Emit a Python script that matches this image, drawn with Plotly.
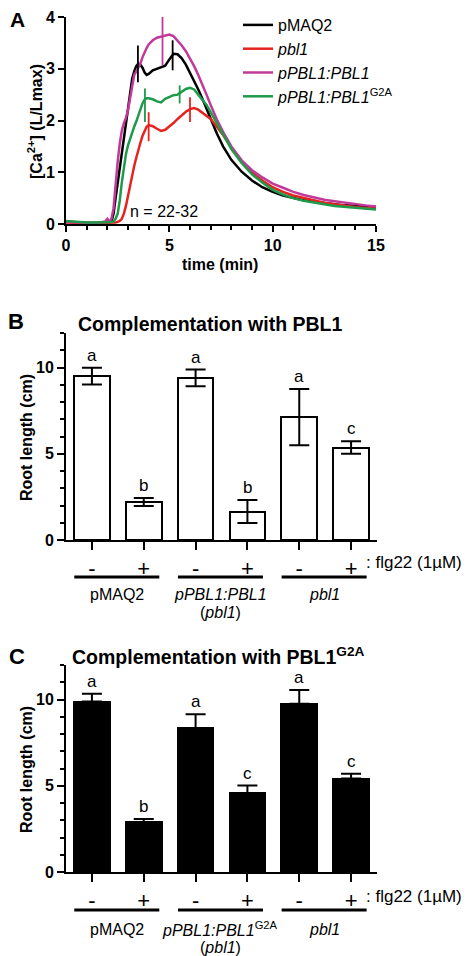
import plotly.graph_objects as go

# the page body keeps its default 8px margin, so the figure is drawn 8px in
# from the window's top-left corner; positions below are window pixels
VIEW_W, VIEW_H = 472, 956
OFF = 8
W, H = VIEW_W - OFF, VIEW_H - OFF
FONT = "Liberation Sans, Arial, sans-serif"

# ---------------- panel A: [Ca2+] traces ----------------
TIME = [0, 0.5, 1, 1.5, 1.9, 2.0, 2.1, 2.2, 2.3, 2.4, 2.5, 2.6, 2.7, 2.8, 2.9,
        3.0, 3.1, 3.2, 3.3, 3.4, 3.5, 3.6, 3.7, 3.8, 3.9, 4.0, 4.2, 4.4, 4.6,
        4.8, 5.0, 5.2, 5.4, 5.6, 5.8, 6.0, 6.2, 6.4, 6.6, 6.8, 7.0, 7.3, 7.6,
        8.0, 8.5, 9.0, 9.5, 10, 10.5, 11, 11.5, 12, 12.5, 13, 13.5, 14, 14.5, 15]

PMAQ2 = [0.05, 0.03, 0.02, 0.02, 0.02, 0.02, 0.03, 0.05, 0.20, 0.50, 0.80, 1.10,
         1.40, 1.65, 1.90, 2.20, 2.55, 2.80, 2.95, 3.05, 3.10, 3.08, 3.02, 2.93,
         2.88, 2.90, 2.97, 3.00, 3.02, 3.06, 3.18, 3.29, 3.28, 3.20, 3.08, 2.93,
         2.77, 2.60, 2.42, 2.22, 2.02, 1.75, 1.50, 1.24, 1.01, 0.84, 0.71, 0.62,
         0.55, 0.50, 0.46, 0.43, 0.40, 0.38, 0.36, 0.35, 0.34, 0.33]

PBL1 = [0.03, 0.02, 0.02, 0.02, 0.02, 0.02, 0.02, 0.02, 0.02, 0.03, 0.04, 0.06,
        0.10, 0.20, 0.35, 0.55, 0.77, 0.95, 1.12, 1.28, 1.45, 1.57, 1.70, 1.80,
        1.88, 1.91, 1.89, 1.84, 1.80, 1.82, 1.88, 1.95, 2.03, 2.10, 2.17, 2.22,
        2.24, 2.21, 2.15, 2.09, 2.03, 1.88, 1.72, 1.48, 1.20, 1.00, 0.84, 0.71,
        0.62, 0.55, 0.50, 0.45, 0.41, 0.38, 0.35, 0.33, 0.31, 0.30]

COMP = [0.04, 0.03, 0.02, 0.02, 0.05, 0.10, 0.05, 0.10, 0.30, 0.80, 1.20, 1.55,
        1.80, 1.95, 2.05, 2.20, 2.45, 2.70, 2.88, 2.95, 3.02, 3.10, 3.22, 3.32,
        3.40, 3.47, 3.55, 3.60, 3.62, 3.63, 3.66, 3.63, 3.55, 3.45, 3.34, 3.20,
        3.05, 2.88, 2.70, 2.50, 2.30, 2.02, 1.78, 1.50, 1.23, 1.04, 0.90, 0.78,
        0.70, 0.62, 0.56, 0.51, 0.47, 0.44, 0.41, 0.38, 0.36, 0.34]

G2A = [0.06, 0.04, 0.03, 0.03, 0.03, 0.04, 0.04, 0.04, 0.05, 0.10, 0.20, 0.45,
       0.80, 1.10, 1.35, 1.52, 1.65, 1.77, 1.88, 1.98, 2.10, 2.22, 2.33, 2.40,
       2.43, 2.43, 2.41, 2.37, 2.35, 2.42, 2.46, 2.49, 2.50, 2.55, 2.61, 2.63,
       2.60, 2.50, 2.40, 2.30, 2.16, 1.95, 1.75, 1.45, 1.18, 0.96, 0.80, 0.66,
       0.57, 0.50, 0.45, 0.41, 0.38, 0.35, 0.33, 0.31, 0.29, 0.28]

# vertical error marks: (times, low, high)
PMAQ2_ERR = ([3.48, 5.16], [2.74, 2.97], [3.45, 3.55])
PBL1_ERR = ([4.0, 6.0], [1.60, 1.97], [2.16, 2.45])
COMP_ERR = ([4.67], [3.07], [4.01])
G2A_ERR = ([3.82, 5.5], [1.97, 2.33], [2.62, 2.68])

# ---------------- panels B and C: root length ----------------
CONDITIONS = ["pMAQ2 -", "pMAQ2 +", "comp -", "comp +", "pbl1 -", "pbl1 +"]
TREATMENT = ["-", "+", "-", "+", "-", "+"]

B_MEAN = [9.50, 2.20, 9.40, 1.65, 7.13, 5.36]
B_ERR = [0.48, 0.23, 0.48, 0.67, 1.63, 0.36]
B_LETTERS = ["a", "b", "a", "b", "a", "c"]

C_MEAN = [9.88, 2.87, 8.33, 4.57, 9.75, 5.42]
C_ERR = [0.45, 0.20, 0.82, 0.44, 0.80, 0.28]
C_LETTERS = ["a", "b", "a", "c", "a", "c"]

B_GROUPS = ["pMAQ2", "<i>pPBL1:PBL1</i>", "<i>pbl1</i>"]
C_GROUPS = ["pMAQ2", "<i>pPBL1:PBL1</i><sup>G2A</sup>", "<i>pbl1</i>"]
GROUP_SUB = ["", "(<i>pbl1</i>)", ""]


def px(x):
    return (x - OFF) / W


def py(y):
    return 1 - (y - OFF) / H


fig = go.Figure()

traces_a = [
    ("pMAQ2", PMAQ2, PMAQ2_ERR, "#000000"),
    ("<i>pbl1</i>", PBL1, PBL1_ERR, "#e52421"),
    ("<i>pPBL1:PBL1</i>", COMP, COMP_ERR, "#c1399a"),
    ("<i>pPBL1:PBL1</i><sup>G2A</sup>", G2A, G2A_ERR, "#1f9a4b"),
]
for name, vals, err, col in traces_a:
    fig.add_trace(go.Scatter(x=TIME, y=vals, mode="lines", name=name,
                             line=dict(color=col, width=2.5),
                             xaxis="x", yaxis="y"))
for name, vals, err, col in traces_a:
    t, lo, hi = err
    mid = [(a + b) / 2 for a, b in zip(lo, hi)]
    half = [(b - a) / 2 for a, b in zip(lo, hi)]
    fig.add_trace(go.Scatter(x=t, y=mid, mode="markers", showlegend=False,
                             marker=dict(size=1, color=col),
                             error_y=dict(type="data", array=half, color=col,
                                          thickness=1.8, width=0),
                             xaxis="x", yaxis="y"))

# bars
fig.add_trace(go.Bar(x=CONDITIONS, y=B_MEAN, width=0.69, showlegend=False,
                     marker=dict(color="white", line=dict(color="black", width=2)),
                     error_y=dict(type="data", array=B_ERR, color="black",
                                  thickness=2, width=10),
                     xaxis="x2", yaxis="y2"))
fig.add_trace(go.Bar(x=CONDITIONS, y=C_MEAN, width=0.69, showlegend=False,
                     marker=dict(color="black", line=dict(color="black", width=2)),
                     error_y=dict(type="data", symmetric=False, array=C_ERR,
                                  arrayminus=[0] * len(C_ERR), color="black",
                                  thickness=2, width=10),
                     xaxis="x3", yaxis="y3"))

axis_common = dict(showline=True, linecolor="black", linewidth=2, ticks="outside",
                   tickcolor="black", tickwidth=2, showgrid=False, zeroline=False,
                   fixedrange=True, automargin=False)
bold16 = dict(family=FONT, size=16, color="black", weight="bold")
minor_y = dict(dtick=1, ticklen=4, tickwidth=1.5, ticks="outside", tickcolor="black")
cat_font = dict(family=FONT, size=22, color="black")

fig.update_layout(
    width=W, height=H,
    margin=dict(l=0, r=0, t=0, b=0, pad=0, autoexpand=False),
    paper_bgcolor="white", plot_bgcolor="white",
    font=dict(family=FONT, size=16, color="black"),
    bargap=0,
    xaxis=dict(domain=[px(66), px(376)], anchor="y", range=[0, 15],
               tickvals=[0, 5, 10, 15], ticklen=6, tickfont=bold16,
               minor=dict(dtick=1, ticklen=4, tickwidth=1.5, ticks="outside",
                          tickcolor="black"),
               **axis_common),
    yaxis=dict(domain=[py(224), py(17)], anchor="x", range=[0, 4],
               tickvals=[0, 1, 2, 3, 4], ticklen=6, tickfont=bold16, **axis_common),
    xaxis2=dict(domain=[px(66), px(377)], anchor="y2", type="category",
                range=[-0.5, 5.5], tickvals=CONDITIONS, ticktext=TREATMENT,
                ticklen=8, tickfont=cat_font, **axis_common),
    yaxis2=dict(domain=[py(540), py(333)], anchor="x2", range=[0, 12],
                tickvals=[0, 5, 10], ticklen=7, tickfont=bold16, minor=minor_y,
                **axis_common),
    xaxis3=dict(domain=[px(66), px(377)], anchor="y3", type="category",
                range=[-0.5, 5.5], tickvals=CONDITIONS, ticktext=TREATMENT,
                ticklen=8, tickfont=cat_font, **axis_common),
    yaxis3=dict(domain=[py(872), py(665)], anchor="x3", range=[0, 12],
                tickvals=[0, 5, 10], ticklen=7, tickfont=bold16, minor=minor_y,
                **axis_common),
    legend=dict(x=px(238), y=1, xanchor="left", yanchor="top",
                bgcolor="rgba(0,0,0,0)", font=dict(family=FONT, size=16),
                itemwidth=30, tracegroupgap=0),
)

ann = []


def text(x, y, s, size=16, bold=False, xanchor="center", **kw):
    f = dict(family=FONT, size=size, color="black")
    if bold:
        f["weight"] = "bold"
    ann.append(dict(x=px(x), y=py(y), xref="paper", yref="paper", text=s,
                    showarrow=False, font=f, xanchor=xanchor, yanchor="middle",
                    **kw))


# panel letters and titles
text(17, 20, "A", size=21, bold=True)
text(16, 321, "B", size=22, bold=True)
text(17, 656, "C", size=22, bold=True)
text(210, 324, "Complementation with PBL1", size=19.5, bold=True)
text(218, 656, "Complementation with PBL1<sup>G2A</sup>", size=19.5, bold=True)

# axis titles
text(35, 122, "[Ca<sup>2+</sup>] (L/Lmax)", bold=True, textangle=-90)
text(220, 264, "time (min)", bold=True)
text(164, 211, "n = 22-32")
text(26, 438, "Root length (cm)", bold=True, textangle=-90)
text(26, 770, "Root length (cm)", bold=True, textangle=-90)
text(364, 562, ": flg22 (1µM)", size=17, xanchor="left")
text(364, 896, ": flg22 (1µM)", size=17, xanchor="left")

# significance letters
for xa, ya, means, errs, letters in [("x2", "y2", B_MEAN, B_ERR, B_LETTERS),
                                     ("x3", "y3", C_MEAN, C_ERR, C_LETTERS)]:
    for i, (m, e, l) in enumerate(zip(means, errs, letters)):
        ann.append(dict(x=i, y=m + e, xref=xa, yref=ya, text=l, showarrow=False,
                        xanchor="center", yanchor="bottom", yshift=1,
                        font=dict(family=FONT, size=17, color="black")))

# genotype groups under the bars
shapes = []
for xa, line_y, lab_y, sub_y, groups in [("x2", 577, 594, 612, B_GROUPS),
                                         ("x3", 910, 929, 947, C_GROUPS)]:
    for g, lab in enumerate(groups):
        x0, x1 = 2 * g - 0.34, 2 * g + 1.3
        shapes.append(dict(type="line", xref=xa, yref="paper", x0=x0, x1=x1,
                           y0=py(line_y), y1=py(line_y),
                           line=dict(color="black", width=3)))
        ann.append(dict(x=(x0 + x1) / 2, y=py(lab_y), xref=xa, yref="paper",
                        text=lab, showarrow=False, xanchor="center",
                        yanchor="middle",
                        font=dict(family=FONT, size=16, color="black")))
        if GROUP_SUB[g]:
            ann.append(dict(x=(x0 + x1) / 2, y=py(sub_y), xref=xa, yref="paper",
                            text=GROUP_SUB[g], showarrow=False, xanchor="center",
                            yanchor="middle",
                            font=dict(family=FONT, size=16, color="black")))

fig.update_layout(annotations=ann, shapes=shapes)

fig.write_html("out.html")
